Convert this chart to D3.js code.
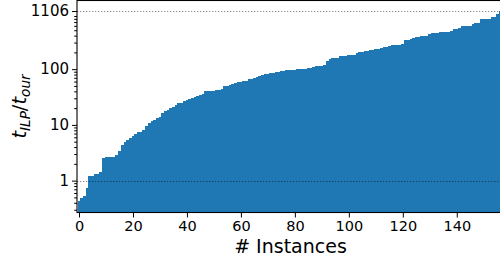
<html>
<head>
  <style>
    body { margin: 0; background: #fff; }
    svg text { font-family: "DejaVu Sans", sans-serif; fill: #000; }
    .tick line { stroke: #000; }
    .domain { display: none; }
  </style>
</head>
<body>
  <div id="chart"></div>
  <script src="https://d3js.org/d3.v7.min.js"></script>
  <script>
    // speed-up t_ILP / t_our per instance, sorted ascending
    var ratios = [
      0.44, 0.48, 0.52, 0.75, 1.23, 1.23, 1.33, 1.33, 1.45, 2.57,
      2.68, 2.68, 2.68, 2.68, 2.91, 3.43, 4.39, 4.97, 5.4, 5.85,
      6.35, 6.9, 7.5, 7.5, 8.1, 9.6, 10.8, 11.8, 12.3, 13.3,
      13.9, 16.3, 17.8, 18.6, 20.1, 21, 22.7, 24.6, 24.6, 26.8,
      28, 29.1, 30.4, 31.6, 33, 34.4, 35.8, 40.4, 40.4, 40.4,
      40.4, 42.2, 42.2, 44, 49.9, 49.9, 51.8, 54, 56.2, 58.5,
      58.5, 61, 61, 66, 66, 69, 73, 75, 78, 81,
      81, 84.5, 84.5, 88, 88, 91.6, 91.6, 95.6, 95.6, 95.6,
      95.6, 99.6, 99.6, 99.6, 99.6, 104, 104, 108, 113, 113,
      113, 118, 139, 150, 156, 156, 156, 170, 170, 170,
      177, 177, 177, 193, 201, 201, 210, 210, 218, 218,
      228, 228, 238, 248, 248, 259, 270, 270, 270, 270,
      280, 327, 327, 343, 357, 372, 372, 388, 388, 388,
      423, 440, 440, 440, 460, 460, 460, 460, 479, 520,
      520, 543, 590, 590, 590, 590, 640, 660, 660, 780,
      780, 810, 810, 850, 880, 960, 1106
    ];
    var xTicks = [0, 20, 40, 60, 80, 100, 120, 140];
    var yTicks = [1, 10, 100, 1106];
    var refLines = [1, 1106];

    var width = 500, height = 260;
    var pLeft = 77, pRight = 504, pTop = 0.5, pBottom = 212.5;

    var svg = d3.select("#chart").append("svg")
        .attr("width", width)
        .attr("height", height);

    var x = d3.scaleLinear().domain([-0.74, 157.5]).range([pLeft, pRight]);
    var y = d3.scaleLog().domain([0.268, 1707]).range([pBottom, pTop]);

    svg.append("defs").append("clipPath").attr("id", "plot")
      .append("rect")
        .attr("x", pLeft).attr("y", pTop)
        .attr("width", pRight - pLeft).attr("height", pBottom - pTop);

    svg.append("g")
        .attr("clip-path", "url(#plot)")
        .attr("shape-rendering", "crispEdges")
      .selectAll("rect")
      .data(ratios)
      .enter().append("rect")
        .attr("x", function (d, i) { return x(i - 0.5); })
        .attr("width", function (d, i) { return x(i + 0.5) - x(i - 0.5) + 0.6; })
        .attr("y", function (d) { return y(d); })
        .attr("height", function (d) { return pBottom - y(d); })
        .attr("fill", "#1f77b4");

    svg.append("g")
      .selectAll("line")
      .data(refLines)
      .enter().append("line")
        .attr("x1", pLeft).attr("x2", width)
        .attr("y1", function (d) { return Math.round(y(d)) + 0.5; })
        .attr("y2", function (d) { return Math.round(y(d)) + 0.5; })
        .attr("stroke", "#000")
        .attr("stroke-opacity", 0.45)
        .attr("stroke-width", 1.2)
        .attr("stroke-dasharray", "1.3,1.7");

    // minor log ticks
    var minor = [];
    [0.1, 1, 10, 100].forEach(function (dec) {
      for (var k = 2; k <= 9; k++) {
        var v = dec * k;
        if (v >= 0.268 && v <= 1707) minor.push(v);
      }
    });

    svg.append("g")
        .attr("transform", "translate(" + pLeft + ",0)")
        .call(d3.axisLeft(y).tickValues(minor).tickSize(2.8).tickFormat(""));

    var yAxis = svg.append("g")
        .attr("transform", "translate(" + pLeft + ",0)")
        .call(d3.axisLeft(y).tickValues(yTicks).tickSize(5).tickPadding(3)
          .tickFormat(function (d) { return d; }));
    yAxis.attr("font-size", 15).attr("font-family", null);

    var xAxis = svg.append("g")
        .attr("transform", "translate(0," + pBottom + ")")
        .call(d3.axisBottom(x).tickValues(xTicks).tickSize(5).tickPadding(3));
    xAxis.attr("font-size", 14.5).attr("font-family", null);

    // frame
    svg.append("rect")
        .attr("x", pLeft).attr("y", pTop)
        .attr("width", pRight - pLeft).attr("height", pBottom - pTop)
        .attr("fill", "none")
        .attr("stroke", "#000")
        .attr("stroke-width", 1.1);

    svg.append("text")
        .attr("x", (pLeft + pRight) / 2)
        .attr("y", 253)
        .attr("text-anchor", "middle")
        .attr("font-size", 19)
        .text("# Instances");

    var yl = svg.append("text")
        .attr("transform", "translate(26," + ((pTop + pBottom) / 2) + ") rotate(-90)")
        .attr("text-anchor", "middle")
        .attr("font-size", 19.5)
        .attr("font-style", "italic");
    yl.append("tspan").text("t");
    yl.append("tspan").attr("font-size", 13.6).attr("dy", 4).text("ILP");
    yl.append("tspan").attr("dy", -4).attr("font-style", "normal").text("/");
    yl.append("tspan").text("t");
    yl.append("tspan").attr("font-size", 13.6).attr("dy", 4).text("our");
  </script>
</body>
</html>
